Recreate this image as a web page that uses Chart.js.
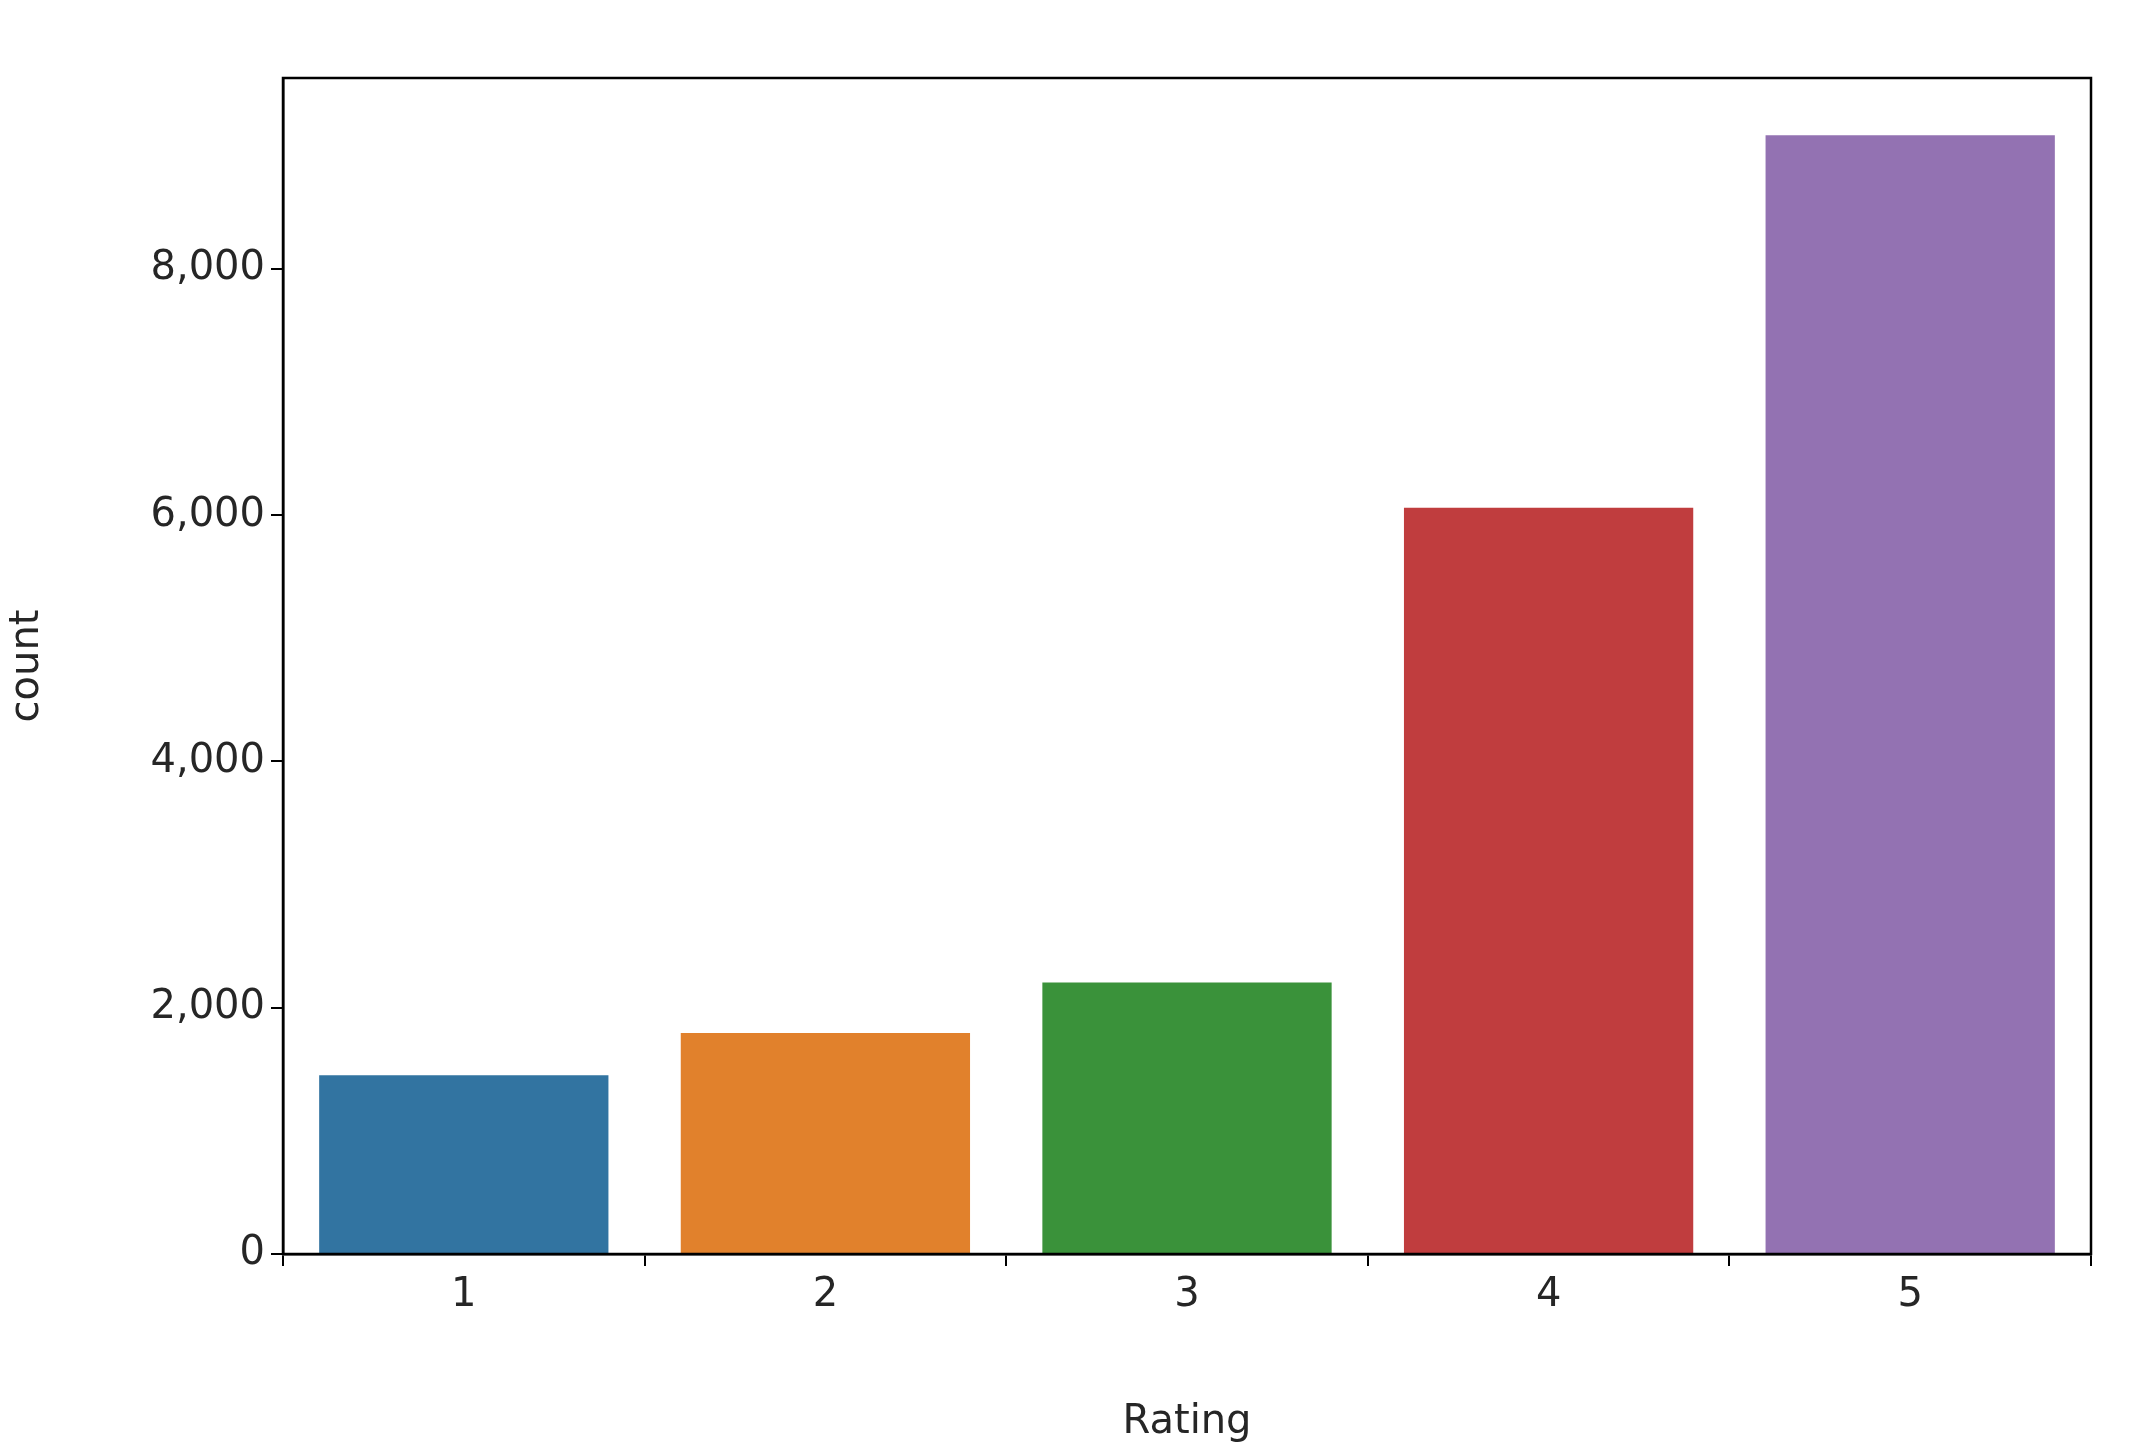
<!DOCTYPE html>
<html>
<head>
<meta charset="utf-8">
<script src="https://cdn.jsdelivr.net/npm/chart.js@4/dist/chart.umd.min.js"></script>
<style>
  html, body { margin: 0; padding: 0; background: #fff; }
  #box { width: 2129px; height: 1451px; }
</style>
</head>
<body>
<div id="box"><canvas id="grafico"></canvas></div>
<script>
var categorias = ['1', '2', '3', '4', '5'];
var contagens = [1452, 1795, 2205, 6061, 9086];
var cores = ['#3274a1', '#e1812c', '#3a923a', '#c03d3e', '#9372b2'];
var ticksY = [0, 2000, 4000, 6000, 8000];

Chart.defaults.font.family = 'DejaVu Sans';
Chart.defaults.font.size = 40;
Chart.defaults.color = '#262626';

// moldura preta em volta da area do grafico
var moldura = {
    id: 'moldura',
    afterDraw: function (chart) {
        var a = chart.chartArea;
        var ctx = chart.ctx;
        ctx.save();
        ctx.strokeStyle = '#000';
        ctx.lineWidth = 2.5;
        ctx.strokeRect(a.left, a.top, a.right - a.left, a.bottom - a.top);
        ctx.restore();
    }
};

new Chart(document.getElementById('grafico'), {
    type: 'bar',
    data: {
        labels: categorias,
        datasets: [{
            data: contagens,
            backgroundColor: cores,
            barPercentage: 0.8,
            categoryPercentage: 1.0
        }]
    },
    options: {
        responsive: true,
        maintainAspectRatio: false,
        animation: false,
        layout: { padding: { top: 78, right: 38, left: 0, bottom: 0 } },
        plugins: { legend: { display: false }, tooltip: { enabled: false } },
        scales: {
            x: {
                grid: { drawOnChartArea: false, drawTicks: true, tickLength: 12, color: '#000', lineWidth: 2 },
                border: { display: true, color: '#000', width: 2.5 },
                ticks: { padding: 6, color: '#262626' },
                title: { display: true, text: 'Rating', color: '#262626', padding: { top: 4 } },
                afterFit: function (s) { s.height = 197; }
            },
            y: {
                min: 0,
                max: 9551,
                afterBuildTicks: function (s) { s.ticks = ticksY.map(function (v) { return { value: v }; }); },
                grid: { drawOnChartArea: false, drawTicks: true, tickLength: 12, color: '#000', lineWidth: 2 },
                border: { display: true, color: '#000', width: 2.5 },
                ticks: { padding: 6, color: '#262626' },
                title: { display: true, text: 'count', color: '#262626', padding: { bottom: 10 } },
                afterFit: function (s) { s.width = 283; }
            }
        }
    },
    plugins: [moldura]
});
</script>
</body>
</html>
